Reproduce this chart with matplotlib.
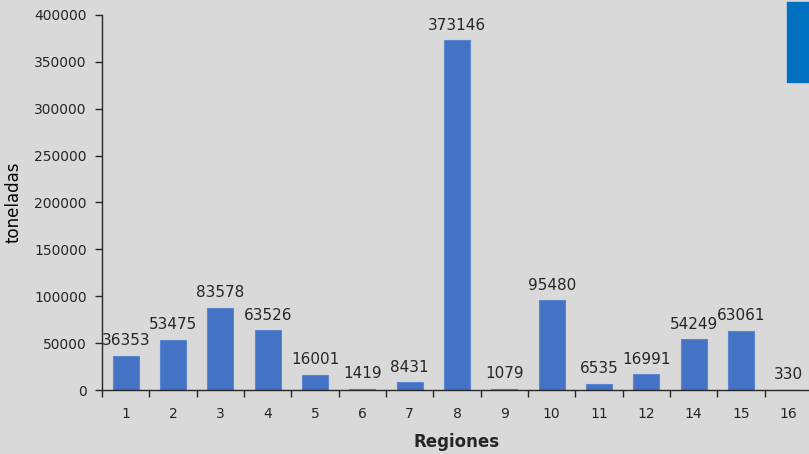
import matplotlib.pyplot as plt
import matplotlib.patches as mpatches
import numpy as np

regiones = ['1', '2', '3', '4', '5', '6', '7', '8', '9', '10', '11', '12', '14', '15', '16']
toneladas = [36353, 53475, 83578, 63526, 16001, 1419, 8431, 373146, 1079, 95480, 6535, 16991, 54249, 63061, 330]
# bar heights as drawn in the picture (bar 3 is drawn taller than its label)
alturas = [36353, 53475, 88000, 63526, 16001, 1419, 8431, 373146, 1079, 95480, 6535, 16991, 54249, 63061, 330]

plt.rcParams['font.family'] = ['DejaVu Sans']
bg = '#d9d9d9'

fig = plt.figure(figsize=(8.09, 4.54), dpi=100, facecolor=bg)
ax = fig.add_axes([102 / 809, 64 / 454, 710 / 809, 375 / 454])
ax.set_facecolor(bg)

x = np.arange(len(regiones))
ax.bar(x, alturas, width=0.55, color='#4472c4', edgecolor='#5b86d0', linewidth=0.8)

for xi, h, v in zip(x, alturas, toneladas):
    ax.text(xi, h + 8000, str(v), ha='center', va='bottom', fontsize=11, color='#262626')

ax.set_xlim(-0.5, len(regiones) - 0.5)
ax.set_ylim(0, 400000)
ax.set_yticks(np.arange(0, 400001, 50000))
ax.set_xticks(x)
ax.set_xticklabels(regiones)
ax.set_xticks(np.arange(-0.5, len(regiones), 1), minor=True)
ax.tick_params(axis='x', which='major', length=0, pad=12, labelsize=10, colors='#262626')
ax.tick_params(axis='x', which='minor', length=5, width=1, color='#262626')
ax.tick_params(axis='y', length=5, width=1, labelsize=10, colors='#262626', pad=6)

for s in ['top', 'right']:
    ax.spines[s].set_visible(False)
for s in ['left', 'bottom']:
    ax.spines[s].set_color('#262626')
    ax.spines[s].set_linewidth(1)

ax.set_ylabel('toneladas', fontsize=12, color='black', labelpad=8)
ax.set_xlabel('Regiones', fontsize=12, fontweight='bold', color='#262626', labelpad=9)

fig.patches.append(mpatches.Rectangle((787 / 809, 1 - 82 / 454), 22 / 809, 80 / 454,
                                      transform=fig.transFigure, color='#0070c0'))

fig.savefig('out.png', dpi=100, facecolor=bg)
